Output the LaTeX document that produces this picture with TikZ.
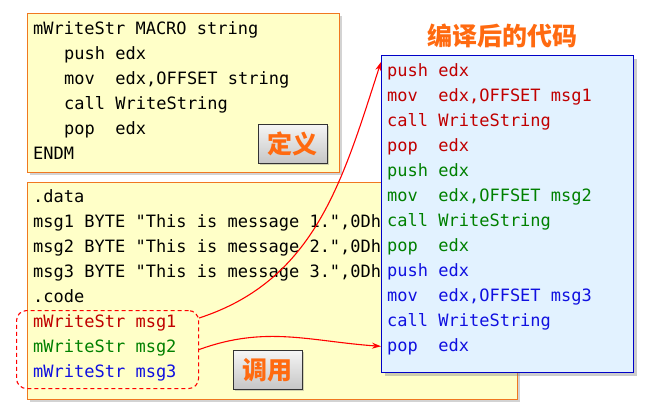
\documentclass[tikz,border=0pt]{standalone}
\usepackage{fontspec}
\usetikzlibrary{arrows.meta,shadows}
\newfontfamily\codefont{DejaVu Sans Mono}
\newfontfamily\cjk{Noto Sans CJK SC}
\definecolor{boxyellow}{HTML}{FFFFC8}
\definecolor{boxorange}{HTML}{F07820}
\definecolor{boxblue}{HTML}{E2F2FF}
\definecolor{lineblue}{HTML}{0000C8}
\definecolor{tagorange}{HTML}{FF6A10}
\definecolor{codered}{HTML}{C00000}
\definecolor{codegreen}{HTML}{008000}
\definecolor{codeblue}{HTML}{1010E0}
\tikzset{
  codebox/.style={draw=boxorange, line width=1.2pt, fill=boxyellow, anchor=north west,
    drop shadow={shadow xshift=2pt, shadow yshift=-2pt, opacity=0.35}},
  outbox/.style={draw=lineblue, line width=1.4pt, fill=boxblue, anchor=north west,
    drop shadow={shadow xshift=3pt, shadow yshift=-3pt, opacity=0.4}},
  tagbox/.style={draw=black!80, line width=0.9pt, top color=gray!8, bottom color=gray!45,
    minimum width=69pt, minimum height=39pt, anchor=north west, text=tagorange,
    font=\cjk\bfseries\fontsize{25}{25}\selectfont,
    drop shadow={shadow xshift=2pt, shadow yshift=-2pt, opacity=0.35}},
  code/.style={font=\codefont\fontsize{17}{25}\selectfont, inner sep=0pt, anchor=base west},
  callbox/.style={draw=red, line width=1.1pt, dash pattern=on 4pt off 3pt, rounded corners=10pt,
    minimum width=182pt, minimum height=78pt, anchor=north west},
  link/.style={red, line width=1.1pt, -{Stealth[length=9pt,width=6pt]}}
}
\begin{document}
\begin{tikzpicture}[x=1pt, y=-1pt]
\useasboundingbox (0,0) rectangle (656,407);
% macro definition
\node[codebox, minimum width=312pt, minimum height=159pt] (macrodef) at (27,13) {};
\node[code] (m1) at (33,34) {mWriteStr MACRO string};
\node[code] (m2) at (64,59) {push edx};
\node[code] (m3) at (64,84) {mov\ \ edx,OFFSET string};
\node[code] (m4) at (64,109) {call WriteString};
\node[code] (m5) at (64,134) {pop\ \ edx};
\node[code] (m6) at (33,159) {ENDM};
\node[tagbox] (deflabel) at (258,124) {定义};
% main program
\node[codebox, minimum width=490pt, minimum height=217pt] (mainprog) at (27,182) {};
\node[code] (d1) at (33,202) {.data};
\node[code] (d2) at (33,227) {msg1 BYTE "This is message 1.",0Dh};
\node[code] (d3) at (33,252) {msg2 BYTE "This is message 2.",0Dh};
\node[code] (d4) at (33,277) {msg3 BYTE "This is message 3.",0Dh};
\node[code] (d5) at (33,302) {.code};
\node[code, codered] (d6) at (33,327) {mWriteStr msg1};
\node[code, codegreen] (d7) at (33,352) {mWriteStr msg2};
\node[code, codeblue] (d8) at (33,377) {mWriteStr msg3};
\node[callbox] (calls) at (16,310) {};
\node[tagbox] (calllabel) at (233,350) {调用};
% expanded code
\node[tagorange, font=\cjk\bfseries\fontsize{25}{25}\selectfont] (title) at (502,36) {编译后的代码};
\node[outbox, minimum width=252pt, minimum height=317pt] (expanded) at (381,55) {};
\node[code, codered] (e1) at (387,76) {push edx};
\node[code, codered] (e2) at (387,101) {mov\ \ edx,OFFSET msg1};
\node[code, codered] (e3) at (387,126) {call WriteString};
\node[code, codered] (e4) at (387,151) {pop\ \ edx};
\node[code, codegreen] (e5) at (387,176) {push edx};
\node[code, codegreen] (e6) at (387,201) {mov\ \ edx,OFFSET msg2};
\node[code, codegreen] (e7) at (387,226) {call WriteString};
\node[code, codegreen] (e8) at (387,251) {pop\ \ edx};
\node[code, codeblue] (e9) at (387,276) {push edx};
\node[code, codeblue] (e10) at (387,301) {mov\ \ edx,OFFSET msg3};
\node[code, codeblue] (e11) at (387,326) {call WriteString};
\node[code, codeblue] (e12) at (387,351) {pop\ \ edx};
% arrows
\coordinate (from1) at ([yshift=-8pt]calls.north east);
\coordinate (to1) at ([yshift=-7pt]expanded.north west);
\coordinate (to2) at (expanded.west |- e12.west);
\draw[link] (from1) to[out=18,in=-108] (to1);
\draw[link] (calls.east) to[out=20,in=176] (to2);
\end{tikzpicture}
\end{document}
